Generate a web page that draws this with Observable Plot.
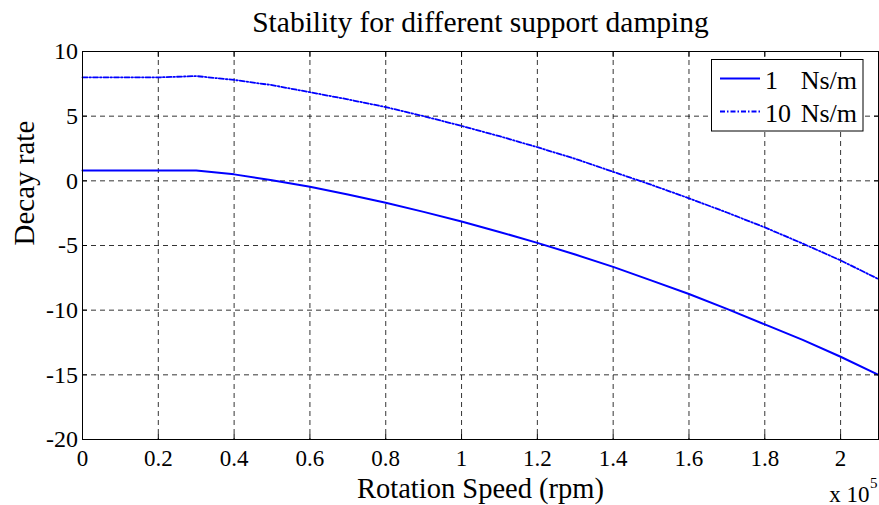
<!DOCTYPE html>
<html>
<head>
<meta charset="utf-8">
<script src="https://cdn.jsdelivr.net/npm/d3@7"></script>
<script src="https://cdn.jsdelivr.net/npm/@observablehq/plot@0.6"></script>
<style>
  html, body { margin: 0; padding: 0; background: white; }
  #chart { width: 879px; height: 505px; }
</style>
</head>
<body>
<div id="chart"></div>
<script>
const title = "Stability for different support damping";
const xLabel = "Rotation Speed (rpm)";
const yLabel = "Decay rate";
const seriesNames = ["1", "10"];
const unitLabel = "Ns/m";
const speeds = [0, 10000, 20000, 30000, 40000, 50000, 60000, 70000, 80000, 90000, 100000,
  110000, 120000, 130000, 140000, 150000, 160000, 170000, 180000, 190000, 200000, 210000];
const decay1 = [0.8, 0.8, 0.8, 0.8, 0.5, 0.05, -0.45, -1.05, -1.7, -2.4, -3.15,
  -3.95, -4.8, -5.7, -6.65, -7.7, -8.75, -9.9, -11.1, -12.3, -13.6, -15.0];
const decay10 = [8.0, 8.0, 8.0, 8.1, 7.8, 7.4, 6.85, 6.3, 5.7, 5.0, 4.25,
  3.45, 2.6, 1.7, 0.7, -0.3, -1.35, -2.45, -3.6, -4.85, -6.15, -7.6];
const xTicks = [0, 20000, 40000, 60000, 80000, 100000, 120000, 140000, 160000, 180000, 200000];
const yTicks = [-20, -15, -10, -5, 0, 5, 10];

const d1 = speeds.map((s, i) => ({x: s, y: decay1[i]}));
const d10 = speeds.map((s, i) => ({x: s, y: decay10[i]}));

const font = "'Liberation Serif', 'Times New Roman', serif";
const gridStyle = {stroke: "black", strokeOpacity: 1, strokeDasharray: "5,4", strokeWidth: 0.8};
const fmtX = d => String(+(d / 1e5).toFixed(1));
const dashDot = "5,2,1.5,2";

const chart = Plot.plot({
  width: 879, height: 505,
  marginLeft: 82, marginRight: 1, marginTop: 51, marginBottom: 66,
  style: {fontFamily: font, fontSize: "24px", color: "black", background: "white"},
  x: {domain: [0, 210000]},
  y: {domain: [-20, 10]},
  marks: [
    Plot.gridX(xTicks, gridStyle),
    Plot.gridY(yTicks, gridStyle),
    Plot.line(d1, {x: "x", y: "y", stroke: "#0000ff", strokeWidth: 2}),
    Plot.line(d10, {x: "x", y: "y", stroke: "#0000ff", strokeWidth: 1.8, strokeDasharray: dashDot}),
    Plot.frame({stroke: "black", strokeWidth: 1}),
    Plot.axisX(xTicks, {anchor: "bottom", tickSize: -5, tickPadding: 15, tickFormat: fmtX, label: null, fontSize: 23, fontFamily: font}),
    Plot.axisX(xTicks, {anchor: "top", tickSize: -5, tickFormat: () => "", label: null}),
    Plot.axisY(yTicks, {anchor: "left", tickSize: -5, tickPadding: 9.5, tickFormat: d => String(d), label: null, fontSize: 24, fontFamily: font}),
    Plot.axisY(yTicks, {anchor: "right", tickSize: -5, tickFormat: () => "", label: null}),
    Plot.text([title], {frameAnchor: "top", dy: -40, fontSize: 29.5, fontFamily: font}),
    Plot.text([xLabel], {frameAnchor: "bottom", dy: 58, fontSize: 28.5, fontFamily: font}),
    Plot.text([yLabel], {frameAnchor: "left", rotate: -90, dx: -58, fontSize: 29, fontFamily: font}),
    Plot.text(["x 10"], {frameAnchor: "bottom-right", dx: -9, dy: 62, textAnchor: "end", fontSize: 23, fontFamily: font}),
    Plot.text(["5"], {frameAnchor: "bottom-right", dx: -8.5, dy: 48, textAnchor: "start", fontSize: 15, fontFamily: font})
  ]
});

document.getElementById("chart").appendChild(chart);

// Legend drawn into the SVG
const svg = d3.select(chart);
const lg = svg.append("g")
  .attr("font-family", font).attr("font-size", 26)
  .style("font-family", font).style("font-size", "26px");
lg.append("rect").attr("x", 711.5).attr("y", 59.5).attr("width", 151.5).attr("height", 71.5)
  .attr("fill", "white").attr("stroke", "black").attr("stroke-width", 1);
const rows = [
  {name: seriesNames[0], dash: null, w: 2, y: 78.5},
  {name: seriesNames[1], dash: dashDot, w: 1.8, y: 111.5}
];
rows.forEach(r => {
  lg.append("line").attr("x1", 720).attr("x2", 760).attr("y1", r.y).attr("y2", r.y)
    .attr("stroke", "#0000ff").attr("stroke-width", r.w).attr("stroke-dasharray", r.dash);
  lg.append("text").attr("x", 765).attr("y", r.y + 10).attr("text-anchor", "start")
    .attr("fill", "black").text(r.name);
  lg.append("text").attr("x", 857).attr("y", r.y + 10).attr("text-anchor", "end")
    .attr("fill", "black").text(unitLabel);
});
</script>
</body>
</html>
